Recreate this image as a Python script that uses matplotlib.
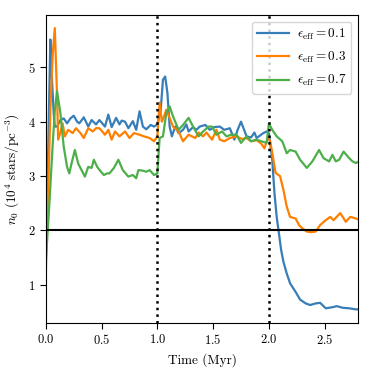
import matplotlib
matplotlib.use("Agg")
import matplotlib.pyplot as plt

plt.rcParams['font.family'] = 'serif'
plt.rcParams['font.serif'] = ['cmr10']
plt.rcParams['mathtext.fontset'] = 'cm'
plt.rcParams['axes.formatter.use_mathtext'] = True

# values (time in Myr, n0 in 1e4 stars/pc^3)
t_01 = [0.00, 0.02, 0.04, 0.05, 0.07, 0.08, 0.10, 0.13, 0.16, 0.19, 0.22, 0.25, 0.28, 0.30,
        0.34, 0.38, 0.41, 0.45, 0.48, 0.53, 0.56, 0.59, 0.63, 0.66, 0.68, 0.71, 0.74, 0.78,
        0.81, 0.84, 0.87, 0.90, 0.94, 0.97, 1.00, 1.03, 1.05, 1.07, 1.09, 1.11, 1.13, 1.16,
        1.19, 1.23, 1.26, 1.28, 1.32, 1.35, 1.38, 1.43, 1.47, 1.51, 1.56, 1.60, 1.65, 1.69,
        1.72, 1.75, 1.80, 1.84, 1.87, 1.89, 1.95, 1.98, 2.00, 2.03, 2.05, 2.07, 2.09, 2.11,
        2.13, 2.16, 2.19, 2.24, 2.28, 2.33, 2.37, 2.42, 2.46, 2.51, 2.57, 2.61, 2.66, 2.72,
        2.78, 2.81]
n_01 = [1.24, 3.40, 5.51, 4.96, 4.16, 3.91, 3.91, 4.03, 4.06, 3.97, 4.06, 4.11, 4.00, 3.97,
        4.08, 3.91, 4.03, 3.95, 4.03, 3.91, 4.13, 3.90, 4.07, 3.95, 4.02, 4.00, 3.88, 4.01,
        3.85, 4.19, 3.91, 3.86, 3.94, 3.91, 3.95, 4.22, 4.77, 4.83, 4.53, 3.91, 3.73, 3.91,
        3.79, 3.85, 3.95, 3.82, 3.90, 3.85, 3.91, 3.94, 3.85, 3.90, 3.91, 3.85, 3.88, 3.67,
        3.85, 4.00, 3.73, 3.71, 3.80, 3.70, 3.79, 3.82, 3.79, 3.30, 2.69, 2.25, 1.95, 1.64,
        1.43, 1.21, 1.03, 0.87, 0.73, 0.66, 0.63, 0.66, 0.67, 0.57, 0.59, 0.61, 0.58, 0.57,
        0.55, 0.55]

t_03 = [0.00, 0.02, 0.04, 0.06, 0.08, 0.10, 0.11, 0.13, 0.15, 0.17, 0.20, 0.24, 0.27, 0.31,
        0.34, 0.38, 0.42, 0.45, 0.48, 0.53, 0.56, 0.59, 0.62, 0.66, 0.71, 0.75, 0.79, 0.84,
        0.88, 0.93, 0.97, 1.00, 1.02, 1.04, 1.06, 1.08, 1.11, 1.14, 1.19, 1.23, 1.28, 1.34,
        1.37, 1.41, 1.44, 1.49, 1.53, 1.56, 1.60, 1.65, 1.71, 1.76, 1.80, 1.84, 1.89, 1.93,
        1.96, 1.99, 2.01, 2.03, 2.06, 2.10, 2.13, 2.16, 2.19, 2.24, 2.27, 2.30, 2.34, 2.38,
        2.42, 2.46, 2.51, 2.55, 2.58, 2.64, 2.69, 2.73, 2.78, 2.81]
n_03 = [1.64, 2.60, 4.20, 5.20, 5.72, 4.50, 3.67, 3.80, 3.97, 3.73, 3.85, 3.79, 3.88, 3.79,
        3.70, 3.88, 3.82, 3.88, 3.88, 3.76, 3.85, 3.67, 3.82, 3.73, 3.82, 3.70, 3.79, 3.76,
        3.73, 3.70, 3.64, 3.73, 4.35, 4.00, 4.10, 4.22, 4.07, 3.91, 3.82, 3.64, 3.76, 3.70,
        3.80, 3.73, 3.80, 3.67, 3.85, 3.67, 3.64, 3.70, 3.73, 3.68, 3.70, 3.64, 3.66, 3.60,
        3.51, 3.70, 3.65, 3.43, 3.06, 3.00, 2.75, 2.44, 2.25, 2.22, 2.10, 2.04, 1.98, 1.97,
        1.98, 2.10, 2.19, 2.25, 2.19, 2.32, 2.16, 2.25, 2.22, 2.20]

t_07 = [0.00, 0.03, 0.06, 0.08, 0.10, 0.13, 0.16, 0.19, 0.21, 0.23, 0.26, 0.29, 0.32, 0.35,
        0.38, 0.41, 0.43, 0.46, 0.49, 0.52, 0.55, 0.57, 0.61, 0.65, 0.69, 0.74, 0.78, 0.81,
        0.83, 0.87, 0.90, 0.93, 0.97, 1.00, 1.02, 1.05, 1.08, 1.11, 1.14, 1.19, 1.23, 1.28,
        1.32, 1.37, 1.41, 1.46, 1.49, 1.53, 1.58, 1.62, 1.66, 1.71, 1.75, 1.80, 1.84, 1.89,
        1.93, 1.98, 2.00, 2.03, 2.07, 2.12, 2.16, 2.19, 2.24, 2.28, 2.34, 2.39, 2.45, 2.49,
        2.54, 2.57, 2.60, 2.63, 2.67, 2.72, 2.75, 2.78, 2.81]
n_07 = [1.46, 2.44, 3.54, 4.20, 4.56, 4.16, 3.54, 3.17, 3.05, 3.23, 3.48, 3.23, 3.11, 2.99,
        3.17, 3.15, 3.30, 3.17, 3.09, 3.02, 3.05, 3.05, 3.15, 3.30, 3.11, 2.99, 3.02, 2.96,
        3.11, 3.10, 3.08, 3.11, 3.02, 3.05, 3.70, 3.73, 4.16, 4.28, 4.10, 3.85, 3.94, 4.07,
        3.91, 3.73, 3.82, 3.91, 3.91, 3.76, 3.82, 3.73, 3.76, 3.76, 3.61, 3.73, 3.64, 3.67,
        3.64, 3.61, 3.97, 3.85, 3.73, 3.64, 3.42, 3.48, 3.45, 3.30, 3.15, 3.27, 3.48, 3.33,
        3.27, 3.39, 3.27, 3.30, 3.45, 3.33, 3.27, 3.24, 3.27]

labels = [r'$\epsilon_{\rm eff} = 0.1$', r'$\epsilon_{\rm eff} = 0.3$', r'$\epsilon_{\rm eff} = 0.7$']
colors = ['#377eb8', '#ff7f00', '#4daf4a']

fig = plt.figure(figsize=(3.73, 3.76), dpi=100)
ax = fig.add_axes([0.123, 0.141, 0.837, 0.819])

ax.plot(t_01, n_01, color=colors[0], lw=1.6, label=labels[0])
ax.plot(t_03, n_03, color=colors[1], lw=1.6, label=labels[1])
ax.plot(t_07, n_07, color=colors[2], lw=1.6, label=labels[2])

ax.axhline(2.0, color='k', lw=1.5)
ax.axvline(1.0, color='k', lw=1.8, ls=':')
ax.axvline(2.0, color='k', lw=1.8, ls=':')

ax.set_xlim(0, 2.8)
ax.set_ylim(0.3, 5.96)
ax.set_xticks([0.0, 0.5, 1.0, 1.5, 2.0, 2.5])
ax.set_yticks([1, 2, 3, 4, 5])
ax.tick_params(labelsize=9, length=4)
ax.set_xlabel('Time (Myr)', fontsize=9.5)
ax.set_ylabel(r'$n_0\ (10^4\ {\rm stars/pc^{-3}})$', fontsize=9.5)
ax.legend(loc='upper right', fontsize=9.5, handlelength=2.4, handletextpad=0.6,
          labelspacing=0.6)

fig.savefig('out.png', dpi=100)
